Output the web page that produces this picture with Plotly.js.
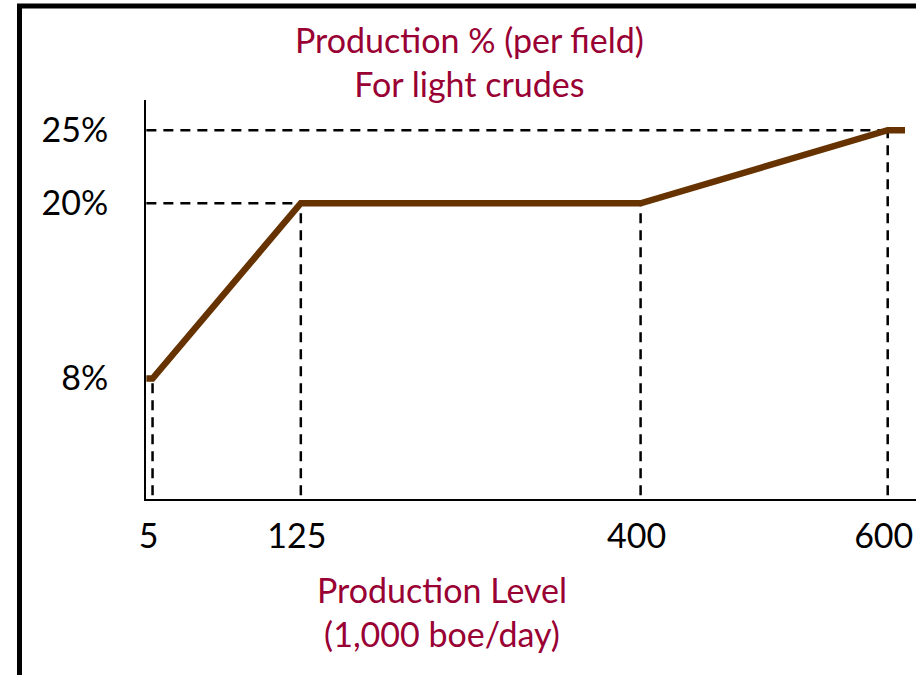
<!DOCTYPE html>
<html>
<head>
<meta charset="utf-8">
<script src="https://cdn.plot.ly/plotly-3.0.1.min.js"></script>
<style>html,body{margin:0;padding:0;background:#fff;}#chart{width:916px;height:675px;}</style>
</head>
<body>
<div id="chart"></div>
<script>
// Data
const productionLevel = [0, 5, 125, 400, 600, 614];     // 1,000 boe/day
const productionPct   = [8, 8, 20, 20, 25, 25];         // % per field
const breakX = [5, 125, 400, 600];                      // breakpoints with vertical guides
const breakY = [8, 20, 20, 25];
const guideLevels = [20, 25];                           // horizontal guides
const guideLevelX = [125, 600];
const xTickVals = [5, 125, 400, 600];
const xTickText = ['5', '125', '400', '600'];
const yTickVals = [8, 20, 25];
const yTickText = ['8%', '20%', '25%'];

const FONT = 'Lato, "Open Sans", sans-serif';
const TITLE_COLOR = '#990033';

// dashed guide traces built from the arrays
const vx = [], vy = [];
breakX.forEach((x, i) => { vx.push(x, x, null); vy.push(0, breakY[i], null); });
const hx = [], hy = [];
guideLevels.forEach((y, i) => { hx.push(0, guideLevelX[i], null); hy.push(y, y, null); });

const traces = [
  {x: vx, y: vy, type: 'scatter', mode: 'lines', line: {color: '#000', width: 2.5, dash: '10px,7px'}, hoverinfo: 'skip', cliponaxis: false},
  {x: hx, y: hy, type: 'scatter', mode: 'lines', line: {color: '#000', width: 2.5, dash: '10px,7px'}, hoverinfo: 'skip', cliponaxis: false},
  {x: productionLevel, y: productionPct, type: 'scatter', mode: 'lines', line: {color: '#663300', width: 6.5}, cliponaxis: false}
];

const layout = {
  width: 916, height: 675,
  margin: {l: 146, r: 0, t: 100, b: 176},
  paper_bgcolor: '#fff', plot_bgcolor: '#fff',
  showlegend: false,
  font: {family: FONT, size: 34, color: '#000'},
  xaxis: {
    range: [-0.3, 622.9], showgrid: false, zeroline: false,
    showline: true, linecolor: '#000', linewidth: 2,
    tickmode: 'array', tickvals: xTickVals, ticktext: xTickText,
    ticks: '', ticklabelstandoff: 6, ticklabeloverflow: 'allow', ticklabelshift: -4,
    tickfont: {family: FONT, size: 34, color: '#000'}
  },
  yaxis: {
    range: [-0.25, 27.07], showgrid: false, zeroline: false,
    showline: true, linecolor: '#000', linewidth: 2,
    tickmode: 'array', tickvals: yTickVals, ticktext: yTickText,
    ticks: '', ticklabelstandoff: 29, ticklabeloverflow: 'allow',
    tickfont: {family: FONT, size: 34, color: '#000'}
  },
  annotations: [
    {xref: 'paper', yref: 'paper', x: 0.4195, y: 1.0965, xanchor: 'center', yanchor: 'middle',
     text: 'Production % (per field)<br>For light crudes', showarrow: false,
     font: {family: FONT, size: 34, color: TITLE_COLOR}},
    {xref: 'paper', yref: 'paper', x: 0.3844, y: -0.282, xanchor: 'center', yanchor: 'middle',
     text: 'Production Level<br>(1,000 boe/day)', showarrow: false,
     font: {family: FONT, size: 34, color: TITLE_COLOR}}
  ],
  shapes: [
    {type: 'rect', xref: 'paper', yref: 'paper', x0: -0.1643, x1: 1.2, y0: -0.6, y1: 1.2356,
     line: {color: '#000', width: 5}, fillcolor: 'rgba(0,0,0,0)', layer: 'above'}
  ]
};

Plotly.newPlot('chart', traces, layout, {displayModeBar: false, staticPlot: true});
</script>
</body>
</html>
